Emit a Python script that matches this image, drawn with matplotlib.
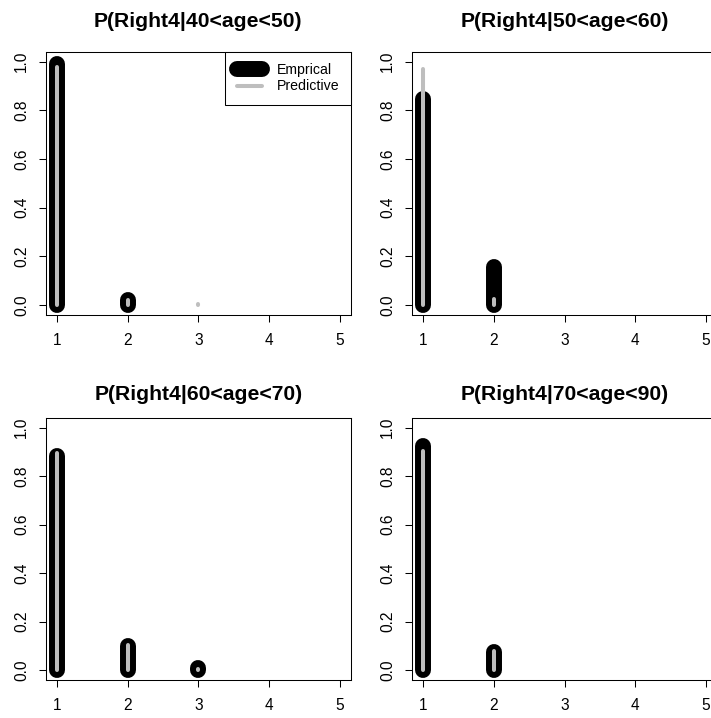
import matplotlib
matplotlib.use("Agg")
import matplotlib.pyplot as plt
from matplotlib.lines import Line2D

plt.rcParams['font.family'] = ['Liberation Sans', 'DejaVu Sans']

# data
titles = ["P(Right4|40<age<50)", "P(Right4|50<age<60)",
          "P(Right4|60<age<70)", "P(Right4|70<age<90)"]

emp_x_40_50 = [1, 2]
emp_40_50 = [0.99, 0.02]
pred_x_40_50 = [1, 2, 3]
pred_40_50 = [0.98, 0.022, 0.002]

emp_x_50_60 = [1, 2]
emp_50_60 = [0.845, 0.155]
pred_x_50_60 = [1, 2]
pred_50_60 = [0.97, 0.026]

emp_x_60_70 = [1, 2, 3]
emp_60_70 = [0.885, 0.10, 0.008]
pred_x_60_70 = [1, 2, 3]
pred_60_70 = [0.895, 0.105, 0.003]

emp_x_70_90 = [1, 2]
emp_70_90 = [0.925, 0.075]
pred_x_70_90 = [1, 2]
pred_70_90 = [0.905, 0.08]

x_ticks = [1, 2, 3, 4, 5]
y_ticks = [0.0, 0.2, 0.4, 0.6, 0.8, 1.0]

panels = [
    (emp_x_40_50, emp_40_50, pred_x_40_50, pred_40_50),
    (emp_x_50_60, emp_50_60, pred_x_50_60, pred_50_60),
    (emp_x_60_70, emp_60_70, pred_x_60_70, pred_60_70),
    (emp_x_70_90, emp_70_90, pred_x_70_90, pred_70_90),
]

W, H = 711, 718
fig = plt.figure(figsize=(W / 100, H / 100), dpi=100)

# axes boxes in pixels: (left, top, right, bottom)
boxes = [(45.7, 52, 351, 314.7), (412, 52, 717.3, 314.7),
         (45.7, 418, 351, 679.7), (412, 418, 717.3, 679.7)]
title_pads = [18, 18, 13, 13]

emp_lw = 11.5
pred_lw = 2.9
grey = '#BEBEBE'

for i, (box, (ex, ey, px, py)) in enumerate(zip(boxes, panels)):
    l, t, r, b = box
    ax = fig.add_axes([l / W, 1 - b / H, (r - l) / W, (b - t) / H])
    lc = ax.vlines(ex, 0, ey, colors='black', linewidth=emp_lw)
    lc.set_capstyle('round')
    lc2 = ax.vlines(px, 0, py, colors=grey, linewidth=pred_lw)
    lc2.set_capstyle('round')
    ax.set_xlim(0.84, 5.16)
    ax.set_ylim(-0.04, 1.04)
    ax.set_xticks(x_ticks)
    ax.set_xticklabels([str(v) for v in x_ticks])
    ax.set_yticks(y_ticks)
    ax.set_yticklabels([f"{v:.1f}" for v in y_ticks], rotation=90, va='center')
    ax.tick_params(axis='both', direction='out', length=5, width=0.75,
                   labelsize=11.2)
    ax.tick_params(axis='x', pad=8)
    ax.tick_params(axis='y', pad=7)
    for s in ax.spines.values():
        s.set_linewidth(0.75)
    ax.set_title(titles[i], fontsize=15.2, fontweight='bold', pad=title_pads[i])

    if i == 0:
        h1 = Line2D([], [], color='black', linewidth=emp_lw, solid_capstyle='round')
        h2 = Line2D([], [], color=grey, linewidth=pred_lw, solid_capstyle='round')
        leg = ax.legend([h1, h2], ['Emprical', 'Predictive'], loc='upper right',
                        borderaxespad=0, fancybox=False, edgecolor='black',
                        framealpha=1, fontsize=10.2, handlelength=1.8,
                        handletextpad=1.05, borderpad=0.8, labelspacing=0.15)
        leg.get_frame().set_linewidth(0.75)

fig.savefig('out.png', dpi=100)
